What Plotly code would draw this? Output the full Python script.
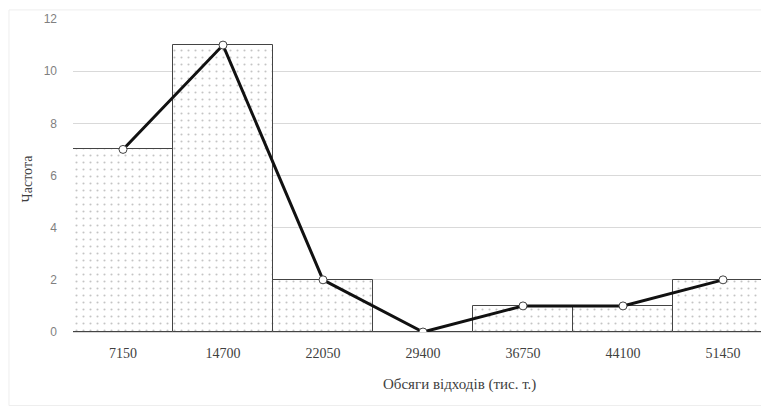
import plotly.graph_objects as go

categories = ["7150", "14700", "22050", "29400", "36750", "44100", "51450"]
frequency = [7, 11, 2, 0, 1, 1, 2]
y_ticks = [0, 2, 4, 6, 8, 10, 12]
x_title = "Обсяги відходів (тис. т.)"
y_title = "Частота"

fig = go.Figure()
fig.add_trace(go.Bar(
    x=categories, y=frequency, width=1,
    marker=dict(
        color="white",
        line=dict(color="#444444", width=1),
        pattern=dict(shape=".", fgcolor="#8a8a8a", bgcolor="white", size=7, solidity=0.07),
    ),
    hoverinfo="skip",
))
fig.add_trace(go.Scatter(
    x=categories, y=frequency, mode="lines+markers",
    line=dict(color="#111111", width=3),
    marker=dict(size=8, color="white", line=dict(color="#444444", width=1)),
))

fig.update_layout(
    width=761, height=399,
    margin=dict(l=65, r=0, t=11, b=75),
    paper_bgcolor="white", plot_bgcolor="white",
    showlegend=False, bargap=0,
    xaxis=dict(
        type="category", range=[-0.5, 6.46],
        showgrid=False, showline=True, linecolor="#d9d9d9", linewidth=1,
        ticks="", tickfont=dict(family="Liberation Serif", size=14, color="#404040"),
        ticklabelstandoff=8,
    ),
    yaxis=dict(
        range=[0, 12], tickvals=y_ticks,
        showgrid=True, gridcolor="#d9d9d9", gridwidth=1,
        zeroline=False, showline=False, ticks="",
        tickfont=dict(family="Liberation Sans", size=12, color="#7f7f7f"),
        ticklabelstandoff=15,
    ),
    shapes=[dict(type="rect", xref="paper", yref="paper",
                 x0=-0.092, x1=0.994, y0=-0.235, y1=1.029,
                 line=dict(color="#eeeeee", width=1), layer="below")],
    annotations=[
        dict(text=x_title, xref="paper", yref="paper", x=0.555, y=-0.135,
             xanchor="center", yanchor="top", showarrow=False,
             font=dict(family="Liberation Serif", size=15, color="#404040")),
        dict(text=y_title, xref="paper", yref="paper", x=-0.065, y=0.49,
             xanchor="center", yanchor="middle", textangle=-90, showarrow=False,
             font=dict(family="Liberation Serif", size=14, color="#404040")),
    ],
)

fig.write_html("out.html")
